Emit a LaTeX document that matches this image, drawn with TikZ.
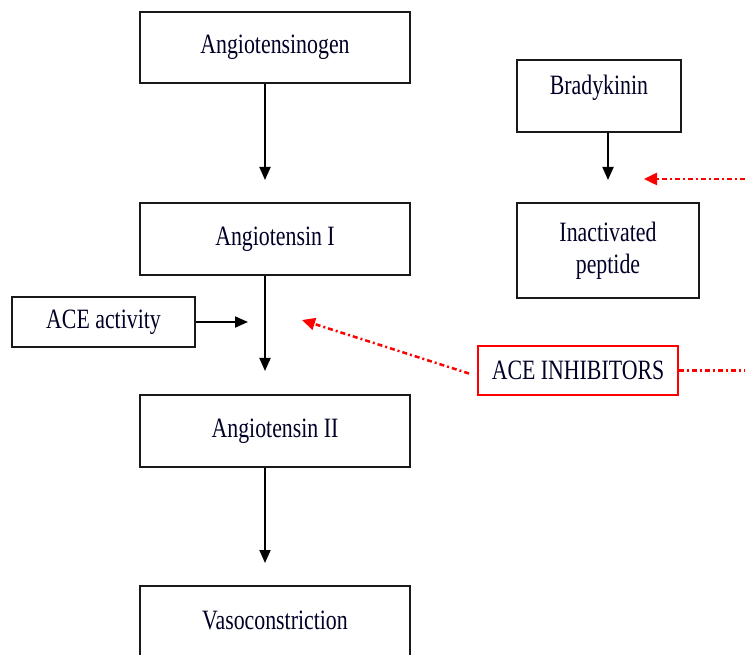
\documentclass[tikz,border=0pt]{standalone}
\usepackage{fontspec}
\setmainfont{Liberation Serif}[FakeStretch=0.78]
\usetikzlibrary{arrows.meta}
\begin{document}
\begin{tikzpicture}[x=1pt,y=-1pt,
  box/.style={draw=black!90,line width=2.3pt,rectangle,inner sep=0pt,
    font=\fontsize{28}{30}\selectfont,align=center,text=black!85!blue},
  lbl/.style={inner sep=0pt,font=\fontsize{28}{30}\selectfont,align=center,text=black!85!blue},
  flow/.style={line width=1.8pt,-{Triangle[length=13pt,width=11pt]}},
  inhib/.style={red,line width=2.5pt,dash pattern=on 5pt off 3pt on 2pt off 3pt,
    -{Triangle[length=13pt,width=12pt]}},
  inhline/.style={red,line width=2.5pt,dash pattern=on 5pt off 3pt on 2pt off 3pt}]
\useasboundingbox (0,0) rectangle (745,655);
% boxes
\node[box,minimum width=270pt,minimum height=71pt] (ango) at (275,47.5) {Angiotensinogen};
\node[box,minimum width=270pt,minimum height=72pt] (ang1) at (275,239) {Angiotensin I};
\node[box,minimum width=270pt,minimum height=72pt] (ang2) at (275,431) {Angiotensin II};
\node[box,minimum width=270pt,minimum height=78pt] (vaso) at (275,625) {};
\node[lbl] (vasot) at (275,620) {Vasoconstriction};
\node[box,minimum width=183pt,minimum height=50pt] (ace) at (103.5,322) {ACE activity};
\node[box,minimum width=164pt,minimum height=72pt] (brady) at (599,96) {};
\node[lbl] (bradyt) at (599,88) {Bradykinin};
\node[box,minimum width=182pt,minimum height=95pt] (inact) at (608,250.5) {Inactivated\\[2pt]peptide};
\node[box,draw=red,line width=2pt,minimum width=200pt,minimum height=49pt] (inh) at (578,370.5) {ACE INHIBITORS};
% arrow targets
\coordinate (t1) at (265,180);
\coordinate (t2) at (265,371);
\coordinate (t3) at (265,563);
\coordinate (tb) at (608,180);
\coordinate (ta) at (248,322);
\coordinate (tr) at (302,320);
\coordinate (tbr) at (644,179);
\coordinate (eR1) at (745,179);
\coordinate (eR2) at (745,370.5);
% connectors
\draw[flow] (ango.south -| t1) -- (t1);
\draw[flow] (ang1.south -| t2) -- (t2);
\draw[flow] (ang2.south -| t3) -- (t3);
\draw[flow] (brady.south -| tb) -- (tb);
\draw[flow] (ace.east) -- (ta);
\draw[inhib] ([xshift=-8pt,yshift=-3pt]inh.west) -- (tr);
\draw[inhline] (inh.east) -- (eR2);
\draw[inhib] (eR1) -- (tbr);
\end{tikzpicture}
\end{document}
